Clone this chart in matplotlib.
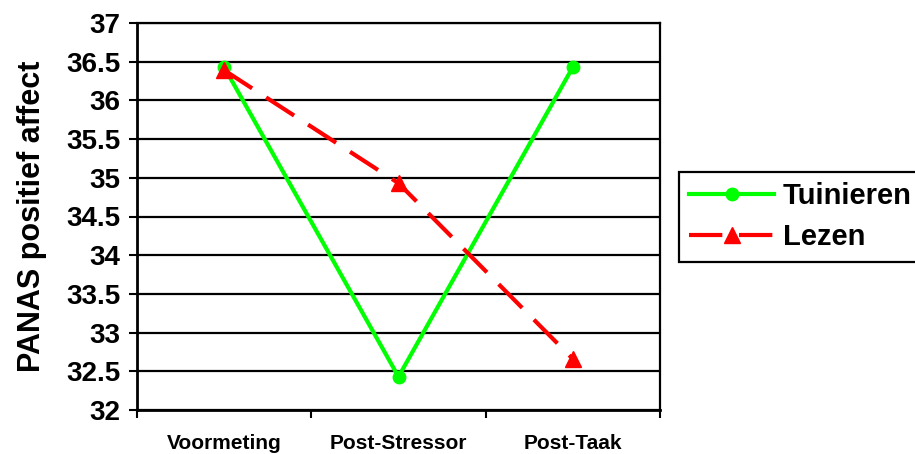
import numpy as np
import matplotlib
matplotlib.use("Agg")
import matplotlib.pyplot as plt

plt.rcParams['font.family'] = ['Liberation Sans', 'DejaVu Sans']
plt.rcParams['font.weight'] = 'bold'

categories = ['Voormeting', 'Post-Stressor', 'Post-Taak']
tuinieren = [36.43, 32.43, 36.43]
lezen = [36.39, 34.93, 32.66]
y_ticks = [32, 32.5, 33, 33.5, 34, 34.5, 35, 35.5, 36, 36.5, 37]
y_labels = ['32', '32.5', '33', '33.5', '34', '34.5', '35', '35.5', '36', '36.5', '37']

fig = plt.figure(figsize=(9.15, 4.54), dpi=100)
ax = fig.add_axes([137/915, 1-410/454, (660-137)/915, (410-23)/454])

x = np.arange(len(categories))
ax.plot(x, tuinieren, color='#00ff00', lw=3, marker='o', ms=9,
        label='Tuinieren', zorder=3)
ax.plot(x, lezen, color='#ff0000', lw=3, dashes=(8, 4), marker='^', ms=11,
        label='Lezen', zorder=4)

ax.set_xlim(-0.5, 2.5)
ax.set_ylim(32, 37)
ax.set_yticks(y_ticks)
ax.set_yticklabels(y_labels, fontsize=20, fontweight='bold')
ax.set_xticks(x)
ax.set_xticklabels(categories, fontsize=15, fontweight='bold')
ax.tick_params(axis='x', which='major', length=0, pad=17)
ax.set_xticks([-0.5, 0.5, 1.5, 2.5], minor=True)
ax.tick_params(axis='x', which='minor', length=6, width=1.5, direction='out')
ax.tick_params(axis='y', length=6, width=1.5, direction='out', pad=6)

ax.grid(axis='y', color='black', lw=1.6)
ax.set_axisbelow(True)
for s in ax.spines.values():
    s.set_linewidth(1.6)
ax.spines['left'].set_linewidth(2)
ax.spines['bottom'].set_linewidth(2)

ax.set_ylabel('PANAS positief affect', fontsize=22, fontweight='bold', labelpad=14)

leg = fig.legend(loc='upper left', bbox_to_anchor=(679/915, 1-172/454),
                 bbox_transform=fig.transFigure, borderaxespad=0,
                 fancybox=False, edgecolor='black', framealpha=1,
                 prop={'size': 21, 'weight': 'bold'}, handlelength=2.9,
                 handletextpad=0.3, labelspacing=0.45, borderpad=0.35,
                 numpoints=1)
leg.get_frame().set_linewidth(1.6)

fig.savefig('out.png', dpi=100)
